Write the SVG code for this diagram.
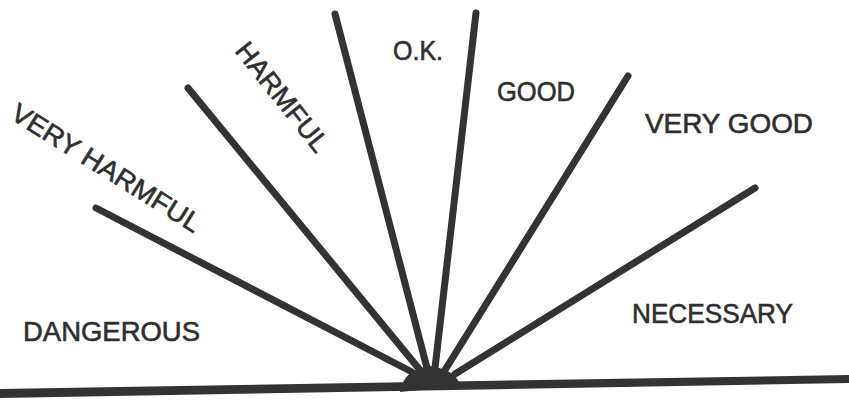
<svg xmlns="http://www.w3.org/2000/svg" width="849" height="401" viewBox="0 0 849 401">
<style>
.ray{stroke:#333;stroke-width:7;stroke-linecap:round;fill:none}
.lbl{font-family:"Liberation Sans",Arial,sans-serif;font-size:27px;fill:#2f2f2f;stroke:#2f2f2f;stroke-width:0.6}
</style>
<rect width="849" height="401" fill="#fff"/>
<g id="connectors">
<path class="ray" d="M96,208 L412,372"/>
<path class="ray" d="M188,88 L420,370"/>
<path class="ray" d="M335,14 L427,368"/>
<path class="ray" d="M476,13 L435,368"/>
<path class="ray" d="M628,76 L445,370"/>
<path class="ray" d="M755,188 L455,374"/>
<path d="M0,389 L849,375 L849,383 L0,398 Z" fill="#333"/>
<path d="M400,392 Q403,370 430,366 Q457,370 460,386 Z" fill="#333"/>
</g>
<g id="dangerous"><text class="lbl" x="23" y="341" textLength="177" lengthAdjust="spacingAndGlyphs">DANGEROUS</text></g>
<g id="very-harmful"><text class="lbl" transform="translate(9,118) rotate(32)" textLength="218" lengthAdjust="spacingAndGlyphs">VERY HARMFUL</text></g>
<g id="harmful"><text class="lbl" transform="translate(234,51) rotate(51.5)" textLength="132" lengthAdjust="spacingAndGlyphs">HARMFUL</text></g>
<g id="ok"><text class="lbl" x="393" y="60" textLength="50" lengthAdjust="spacingAndGlyphs">O.K.</text></g>
<g id="good"><text class="lbl" x="497" y="101" textLength="78" lengthAdjust="spacingAndGlyphs">GOOD</text></g>
<g id="very-good"><text class="lbl" x="645" y="133" textLength="168" lengthAdjust="spacingAndGlyphs">VERY GOOD</text></g>
<g id="necessary"><text class="lbl" x="632" y="323" textLength="161" lengthAdjust="spacingAndGlyphs">NECESSARY</text></g>
</svg>
